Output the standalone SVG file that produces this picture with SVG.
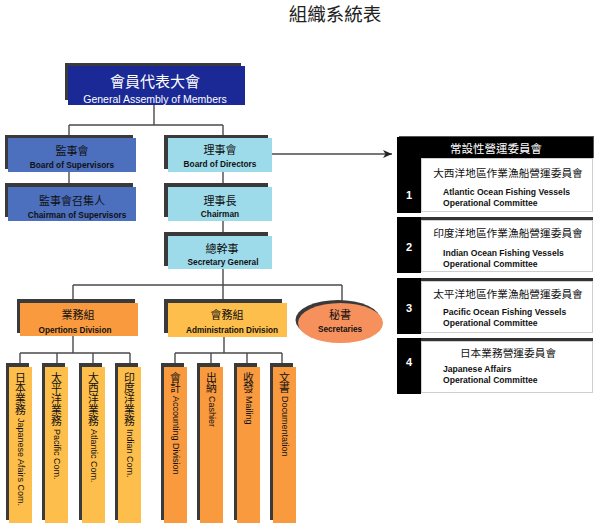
<svg xmlns="http://www.w3.org/2000/svg" width="600" height="529" viewBox="0 0 600 529">
<defs>
<style>
.sh{fill:#3a3a3a}
.cn{font-family:"Noto Sans CJK TC","Noto Sans CJK SC",sans-serif;text-anchor:middle}
.en{font-family:"Liberation Sans",Arial,sans-serif;text-anchor:middle}
.enl{font-family:"Liberation Sans",Arial,sans-serif;text-anchor:start;font-weight:bold;font-size:8.6px;fill:#111}
.b{font-weight:bold}
.ln{stroke:#4a4a4a;stroke-width:1.4;fill:none}
.vt{writing-mode:vertical-rl;text-orientation:mixed;fill:#111}
.vc{font-family:"Noto Sans CJK TC","Noto Sans CJK SC",sans-serif;font-size:10.8px}
.ve{font-family:"Liberation Sans",Arial,sans-serif;font-size:9px}
.blk{fill:#000}
.wbox{fill:#fff;stroke:#cfcfcf;stroke-width:1}
.bar{fill:#333}
</style>
<marker id="arr" viewBox="0 0 9 8" refX="9" refY="4" markerWidth="9" markerHeight="8" markerUnits="userSpaceOnUse" orient="auto">
<path d="M0,0 L9,4 L0,8 L2.5,4 z" fill="#222"/>
</marker>
</defs>
<rect width="600" height="529" fill="#fff"/>

<text x="335" y="21" class="cn" font-size="18.5" fill="#222">組織系統表</text>

<g id="connectors">
<path class="ln" d="M154,105 V125 M69,125 H223 M69,125 V135 M223,125 V135"/>
<path class="ln" d="M69,172 V183"/>
<path class="ln" d="M223,172 V183 M223,221 V232"/>
<path class="ln" d="M223,269 V299 M73,285 H342 M73,285 V299 M342,285 V304"/>
<path class="ln" d="M73,336 V353 M20,353 H130 M20,353 V363 M57,353 V363 M93,353 V363 M130,353 V363"/>
<path class="ln" d="M224,337 V353 M175,353 H282 M175,353 V363 M211,353 V363 M247,353 V363 M282,353 V363"/>
<line class="ln" x1="272" y1="154" x2="392" y2="154" marker-end="url(#arr)"/>
</g>

<g id="assembly">
<rect class="sh" x="65" y="63" width="176" height="37"/>
<rect x="68" y="66" width="177" height="39" fill="#1b2996"/>
<text x="155" y="87" class="cn" font-size="15" fill="#fff">會員代表大會</text>
<text x="155" y="102.5" class="en" font-size="10.5" fill="#fff">General Assembly of Members</text>
</g>

<g id="supervisors">
<rect class="sh" x="5" y="135" width="128" height="34"/>
<rect x="8" y="138" width="128" height="34" fill="#4c6fbe"/>
<text x="72" y="155" class="cn" font-size="11" fill="#111">監事會</text>
<text x="72" y="168" class="en b" font-size="8.3" fill="#111">Board of Supervisors</text>
</g>

<g id="chairman-supervisors">
<rect class="sh" x="5" y="183" width="128" height="34"/>
<rect x="8" y="187" width="128" height="34" fill="#4c6fbe"/>
<text x="72" y="205" class="cn" font-size="11" fill="#111">監事會召集人</text>
<text x="77" y="217.5" class="en b" font-size="8.3" fill="#111">Chairman of Supervisors</text>
</g>

<g id="directors">
<rect class="sh" x="164" y="135" width="104" height="34"/>
<rect x="168" y="138" width="104" height="34" fill="#9edbea"/>
<text x="220" y="154" class="cn" font-size="11" fill="#111">理事會</text>
<text x="220" y="167" class="en b" font-size="8.3" fill="#111">Board of Directors</text>
</g>

<g id="chairman">
<rect class="sh" x="164" y="183" width="104" height="34"/>
<rect x="168" y="187" width="104" height="34" fill="#9edbea"/>
<text x="220" y="205" class="cn" font-size="11" fill="#111">理事長</text>
<text x="220" y="216.5" class="en b" font-size="8.3" fill="#111">Chairman</text>
</g>

<g id="secretary-general">
<rect class="sh" x="164" y="232" width="104" height="34"/>
<rect x="168" y="236" width="104" height="33" fill="#9edbea"/>
<text x="222" y="253" class="cn" font-size="11" fill="#111">總幹事</text>
<text x="223" y="265" class="en b" font-size="8.3" fill="#111">Secretary General</text>
</g>

<g id="operations">
<rect class="sh" x="17" y="299" width="118" height="34"/>
<rect x="20" y="303" width="118" height="33" fill="#f99a3f"/>
<text x="78" y="319" class="cn" font-size="11" fill="#111">業務組</text>
<text x="75" y="333" class="en b" font-size="8.2" fill="#111">Opertions Division</text>
</g>

<g id="administration">
<rect class="sh" x="164" y="299" width="118" height="34"/>
<rect x="168" y="303" width="119" height="34" fill="#fdbe4c"/>
<text x="227" y="319" class="cn" font-size="11" fill="#111">會務組</text>
<text x="232" y="333" class="en b" font-size="8.2" fill="#111">Administration Division</text>
</g>

<g id="secretaries">
<ellipse cx="338" cy="320" rx="42.5" ry="20" fill="#3a3a3a"/>
<ellipse cx="340.5" cy="323" rx="42.5" ry="20" fill="#f6905c"/>
<text x="340" y="319" class="cn" font-size="11" fill="#111">秘書</text>
<text x="340" y="332" class="en b" font-size="8.2" fill="#111">Secretaries</text>
</g>

<g id="ops-japan">
<rect class="sh" x="6" y="363" width="23" height="157"/>
<rect x="9" y="367" width="23" height="156" fill="#fdbe4c"/>
<text x="20.5" y="372" class="vt vc">日本業務</text>
<text x="20.5" y="418" class="vt ve">Japanese Afairs Com.</text>
</g>
<g id="ops-pacific">
<rect class="sh" x="42" y="363" width="23" height="157"/>
<rect x="45" y="367" width="23" height="156" fill="#fdbe4c"/>
<text x="56.5" y="372" class="vt vc">太平洋業務</text>
<text x="56.5" y="429" class="vt ve">Pacific Com.</text>
</g>
<g id="ops-atlantic">
<rect class="sh" x="79" y="363" width="23" height="157"/>
<rect x="82" y="367" width="23" height="156" fill="#fdbe4c"/>
<text x="93.5" y="372" class="vt vc">大西洋業務</text>
<text x="93.5" y="429" class="vt ve">Atlantic Com.</text>
</g>
<g id="ops-indian">
<rect class="sh" x="115" y="363" width="23" height="157"/>
<rect x="118" y="367" width="23" height="156" fill="#fdbe4c"/>
<text x="129.5" y="372" class="vt vc">印度洋業務</text>
<text x="129.5" y="429" class="vt ve">Indian Com.</text>
</g>

<g id="adm-accounting">
<rect class="sh" x="161" y="363" width="23" height="157"/>
<rect x="164" y="367" width="23" height="156" fill="#f99a3f"/>
<text x="175.5" y="372" class="vt vc">會計</text>
<text x="175.5" y="396" class="vt ve">Accounting Division</text>
</g>
<g id="adm-cashier">
<rect class="sh" x="197" y="363" width="23" height="157"/>
<rect x="200" y="367" width="23" height="156" fill="#f99a3f"/>
<text x="211.5" y="372" class="vt vc">出納</text>
<text x="211.5" y="396" class="vt ve">Cashier</text>
</g>
<g id="adm-mailing">
<rect class="sh" x="234" y="363" width="23" height="157"/>
<rect x="237" y="367" width="23" height="156" fill="#f99a3f"/>
<text x="248.5" y="372" class="vt vc">收發</text>
<text x="248.5" y="396" class="vt ve">Mailing</text>
</g>
<g id="adm-documentation">
<rect class="sh" x="270" y="363" width="23" height="157"/>
<rect x="273" y="367" width="23" height="156" fill="#f99a3f"/>
<text x="284.5" y="372" class="vt vc">文書</text>
<text x="284.5" y="396" class="vt ve">Documentation</text>
</g>

<g id="committee-header">
<rect x="399" y="136" width="195" height="22" fill="#555"/>
<rect class="blk" x="397" y="137" width="196" height="21"/>
<rect class="blk" x="397" y="137" width="24" height="76"/>
<text x="496" y="153" class="cn" font-size="11.5" fill="#fff">常設性營運委員會</text>
</g>

<g id="committee-1">
<rect class="wbox" x="421.5" y="158.5" width="171" height="53"/>
<text x="409" y="199" class="en b" font-size="11" fill="#fff">1</text>
<text x="508" y="177" class="cn" font-size="10.7" fill="#111">大西洋地區作業漁船營運委員會</text>
<text x="443" y="195" class="enl">Atlantic Ocean Fishing Vessels</text>
<text x="443" y="206" class="enl">Operational Committee</text>
</g>

<g id="committee-2">
<rect class="bar" x="397" y="217" width="196" height="3"/>
<rect class="blk" x="397" y="217" width="24" height="56"/>
<rect class="wbox" x="421.5" y="220.5" width="171" height="51"/>
<text x="409" y="251" class="en b" font-size="11" fill="#fff">2</text>
<text x="508" y="237" class="cn" font-size="10.7" fill="#111">印度洋地區作業漁船營運委員會</text>
<text x="443" y="256" class="enl">Indian Ocean Fishing Vessels</text>
<text x="443" y="267" class="enl">Operational Committee</text>
</g>

<g id="committee-3">
<rect class="bar" x="397" y="278" width="196" height="3"/>
<rect class="blk" x="397" y="278" width="24" height="56"/>
<rect class="wbox" x="421.5" y="281.5" width="171" height="51"/>
<text x="409" y="312" class="en b" font-size="11" fill="#fff">3</text>
<text x="508" y="298" class="cn" font-size="10.7" fill="#111">太平洋地區作業漁船營運委員會</text>
<text x="443" y="315" class="enl">Pacific Ocean Fishing Vessels</text>
<text x="443" y="326" class="enl">Operational Committee</text>
</g>

<g id="committee-4">
<rect class="bar" x="397" y="338" width="196" height="3"/>
<rect class="blk" x="397" y="338" width="24" height="56"/>
<rect class="wbox" x="421.5" y="341.5" width="171" height="51"/>
<text x="409" y="366" class="en b" font-size="11" fill="#fff">4</text>
<text x="508" y="357" class="cn" font-size="10.7" fill="#111">日本業務營運委員會</text>
<text x="443" y="372" class="enl">Japanese Affairs</text>
<text x="443" y="383" class="enl">Operational Committee</text>
</g>
</svg>
